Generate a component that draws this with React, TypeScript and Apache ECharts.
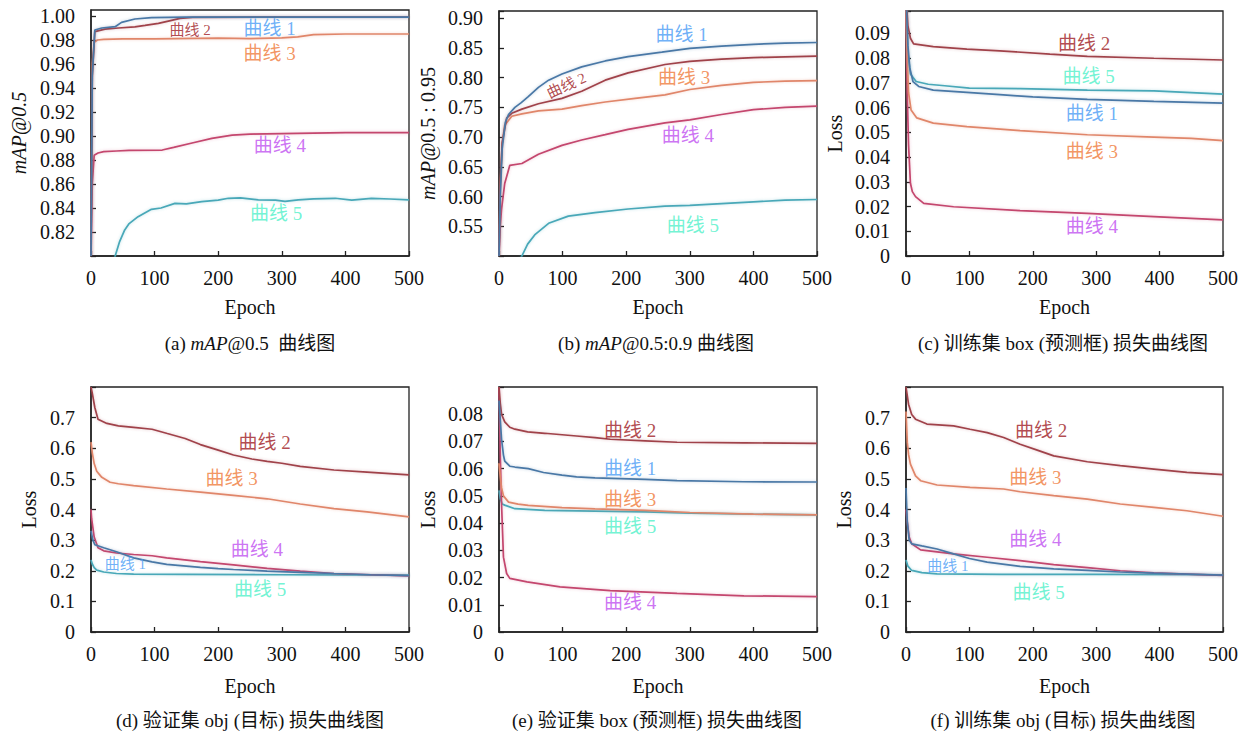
import React, { useEffect, useRef } from 'react';
import * as echarts from 'echarts';

type P = [number, number];

// ---------- tick labels ----------
const X_TICKS = ['0', '100', '200', '300', '400', '500'];
const A_YTICKS = ['0.82', '0.84', '0.86', '0.88', '0.90', '0.92', '0.94', '0.96', '0.98', '1.00'];
const B_YTICKS = ['0.55', '0.60', '0.65', '0.70', '0.75', '0.80', '0.85', '0.90'];
const C_YTICKS = ['0', '0.01', '0.02', '0.03', '0.04', '0.05', '0.06', '0.07', '0.08', '0.09'];
const D_YTICKS = ['0', '0.1', '0.2', '0.3', '0.4', '0.5', '0.6', '0.7'];
const E_YTICKS = ['0', '0.01', '0.02', '0.03', '0.04', '0.05', '0.06', '0.07', '0.08'];
const F_YTICKS = ['0', '0.1', '0.2', '0.3', '0.4', '0.5', '0.6', '0.7'];

const CURVE_NAMES = ['曲线 1', '曲线 2', '曲线 3', '曲线 4', '曲线 5'];

// ---------- (a) mAP@0.5 ----------
const A_C1: P[] = [[0, 0.80], [2, 0.95], [6, 0.9883], [17, 0.990], [38, 0.9911], [48, 0.9947], [69, 0.9975], [95, 0.9986], [150, 0.9990], [300, 0.9991], [500, 0.9991]];
const A_C2: P[] = [[0, 0.80], [2, 0.95], [6, 0.987], [22, 0.989], [43, 0.990], [69, 0.991], [85, 0.9922], [106, 0.9939], [125, 0.9962], [140, 0.998], [160, 0.9989], [300, 0.9991], [500, 0.9991]];
const A_C3: P[] = [[0, 0.80], [2, 0.96], [5, 0.978], [10, 0.980], [20, 0.9805], [50, 0.981], [100, 0.981], [200, 0.9815], [250, 0.9812], [300, 0.9818], [325, 0.9826], [350, 0.9845], [400, 0.985], [500, 0.985]];
const A_C4: P[] = [[0, 0.80], [2, 0.86], [5, 0.884], [11, 0.8858], [20, 0.887], [40, 0.8875], [60, 0.888], [112, 0.8883], [130, 0.8905], [159, 0.8942], [190, 0.898], [222, 0.9008], [250, 0.9015], [300, 0.902], [400, 0.9028], [500, 0.9028]];
const A_C5: P[] = [[0, 0.70], [20, 0.76], [38, 0.80], [45, 0.812], [53, 0.8217], [60, 0.827], [74, 0.8328], [95, 0.8389], [110, 0.840], [132, 0.8439], [150, 0.8435], [174, 0.8453], [200, 0.8465], [216, 0.8481], [235, 0.8485], [263, 0.8467], [290, 0.8465], [305, 0.8455], [326, 0.8467], [350, 0.8476], [384, 0.8481], [410, 0.8465], [441, 0.848], [470, 0.8475], [500, 0.8467]];
const A_LABELS: [number, number, string][] = [[156, 0.9883, '曲线 2'], [281, 0.990, '曲线 1'], [281, 0.969, '曲线 3'], [297, 0.8917, '曲线 4'], [291, 0.8358, '曲线 5']];

// ---------- (b) mAP@0.5:0.95 ----------
const B_C1: P[] = [[0, 0.50], [2, 0.60], [5, 0.68], [10, 0.725], [15, 0.738], [25, 0.75], [35, 0.758], [46, 0.768], [62, 0.7835], [78, 0.7957], [99, 0.806], [130, 0.818], [167, 0.828], [203, 0.8354], [256, 0.8427], [300, 0.849], [350, 0.853], [400, 0.856], [450, 0.858], [500, 0.859]];
const B_C2: P[] = [[0, 0.50], [2, 0.62], [5, 0.69], [12, 0.732], [20, 0.74], [36, 0.747], [62, 0.756], [99, 0.765], [130, 0.777], [167, 0.7957], [203, 0.808], [261, 0.822], [300, 0.8274], [350, 0.831], [400, 0.8335], [450, 0.835], [500, 0.836]];
const B_C3: P[] = [[0, 0.50], [2, 0.62], [5, 0.69], [9, 0.72], [20, 0.735], [36, 0.739], [62, 0.744], [99, 0.747], [130, 0.753], [167, 0.759], [214, 0.765], [261, 0.771], [300, 0.78], [350, 0.787], [400, 0.792], [450, 0.794], [500, 0.795]];
const B_C4: P[] = [[0, 0.50], [2, 0.55], [4, 0.579], [9, 0.622], [17, 0.6525], [36, 0.6555], [62, 0.671], [99, 0.686], [130, 0.695], [167, 0.704], [203, 0.713], [261, 0.724], [300, 0.729], [350, 0.738], [400, 0.746], [450, 0.75], [500, 0.752]];
const B_C5: P[] = [[0, 0.40], [30, 0.49], [36, 0.50], [45, 0.52], [57, 0.5365], [78, 0.555], [109, 0.567], [151, 0.573], [203, 0.579], [261, 0.584], [300, 0.585], [350, 0.588], [400, 0.591], [450, 0.594], [500, 0.595]];
const B_LABELS: [number, number, string][] = [[106, 0.7866, '曲线 2'], [287, 0.872, '曲线 1'], [291, 0.80, '曲线 3'], [297, 0.7024, '曲线 4'], [305, 0.5518, '曲线 5']];

// ---------- (c) train box loss ----------
const C_C1: P[] = [[0, 0.105], [3, 0.085], [6, 0.076], [11, 0.0705], [20, 0.0685], [43, 0.067], [96, 0.0661], [148, 0.0652], [200, 0.0643], [286, 0.0633], [391, 0.0625], [500, 0.0618]];
const C_C2: P[] = [[0, 0.105], [3, 0.093], [7, 0.088], [12, 0.0857], [43, 0.0846], [96, 0.0836], [148, 0.0829], [227, 0.0816], [286, 0.0807], [391, 0.0799], [500, 0.0792]];
const C_C3: P[] = [[0, 0.10], [2, 0.08], [4, 0.066], [8, 0.059], [17, 0.0558], [43, 0.0537], [96, 0.0523], [180, 0.0507], [286, 0.049], [391, 0.048], [450, 0.0475], [500, 0.0466]];
const C_C4: P[] = [[0, 0.10], [2, 0.065], [4, 0.045], [7, 0.0294], [10, 0.026], [15, 0.024], [28, 0.0213], [75, 0.0199], [180, 0.0183], [286, 0.0172], [391, 0.0159], [500, 0.0146]];
const C_C5: P[] = [[0, 0.11], [3, 0.082], [7, 0.0735], [16, 0.0705], [35, 0.0694], [61, 0.0688], [100, 0.0678], [180, 0.0676], [286, 0.067], [391, 0.0667], [450, 0.066], [500, 0.0654]];
const C_LABELS: [number, number, string][] = [[281, 0.086, '曲线 2'], [288, 0.0725, '曲线 5'], [293, 0.0577, '曲线 1'], [293, 0.0422, '曲线 3'], [293, 0.0119, '曲线 4']];

// ---------- (d) val obj loss ----------
const D_C1: P[] = [[0, 0.33], [3, 0.30], [6, 0.285], [20, 0.275], [40, 0.262], [67, 0.242], [96, 0.229], [119, 0.221], [172, 0.211], [200, 0.207], [224, 0.204], [277, 0.199], [329, 0.195], [382, 0.191], [440, 0.187], [500, 0.184]];
const D_C2: P[] = [[0, 0.80], [2, 0.78], [6, 0.733], [11, 0.695], [25, 0.681], [43, 0.673], [67, 0.668], [96, 0.662], [120, 0.648], [148, 0.632], [172, 0.612], [200, 0.594], [224, 0.578], [253, 0.565], [277, 0.557], [300, 0.551], [329, 0.541], [382, 0.529], [434, 0.522], [500, 0.513]];
const D_C3: P[] = [[0, 0.62], [2, 0.585], [5, 0.55], [9, 0.525], [17, 0.505], [30, 0.489], [43, 0.484], [67, 0.478], [119, 0.467], [172, 0.457], [224, 0.446], [277, 0.435], [329, 0.418], [382, 0.403], [434, 0.392], [500, 0.376]];
const D_C4: P[] = [[0, 0.40], [1, 0.37], [5, 0.31], [11, 0.275], [20, 0.265], [40, 0.258], [67, 0.253], [96, 0.249], [119, 0.242], [172, 0.23], [224, 0.219], [277, 0.208], [329, 0.199], [382, 0.191], [440, 0.187], [500, 0.183]];
const D_C5: P[] = [[0, 0.235], [2, 0.222], [5, 0.21], [9, 0.202], [20, 0.196], [40, 0.191], [67, 0.189], [150, 0.188], [300, 0.187], [500, 0.186]];
const D_LABELS: [number, number, string][] = [[273, 0.619, '曲线 2'], [221, 0.50, '曲线 3'], [261, 0.2695, '曲线 4'], [54, 0.222, '曲线 1'], [266, 0.1396, '曲线 5']];

// ---------- (e) val box loss ----------
const E_C1: P[] = [[0, 0.085], [2, 0.078], [4, 0.0708], [7, 0.065], [9, 0.0628], [17, 0.0609], [25, 0.0606], [46, 0.06], [70, 0.0586], [99, 0.0576], [122, 0.057], [151, 0.0566], [230, 0.0561], [280, 0.0556], [385, 0.0552], [500, 0.0551]];
const E_C2: P[] = [[0, 0.09], [2, 0.084], [4, 0.08], [9, 0.0772], [17, 0.0752], [25, 0.0745], [45, 0.0735], [72, 0.073], [122, 0.072], [151, 0.0714], [175, 0.0708], [230, 0.0702], [280, 0.0697], [385, 0.0695], [500, 0.0693]];
const E_C3: P[] = [[0, 0.062], [2, 0.057], [4, 0.053], [7, 0.05], [15, 0.0477], [30, 0.047], [46, 0.0465], [99, 0.0457], [151, 0.0452], [230, 0.0447], [300, 0.0439], [400, 0.0433], [500, 0.043]];
const E_C4: P[] = [[0, 0.09], [2, 0.065], [4, 0.047], [7, 0.0275], [12, 0.0215], [17, 0.0197], [44, 0.0184], [96, 0.0166], [175, 0.0152], [280, 0.0142], [385, 0.0133], [500, 0.013]];
const E_C5: P[] = [[0, 0.052], [2, 0.049], [5, 0.047], [9, 0.0466], [25, 0.0453], [72, 0.0447], [151, 0.0444], [230, 0.0441], [300, 0.0437], [400, 0.0433], [500, 0.043]];
const E_LABELS: [number, number, string][] = [[206, 0.0739, '曲线 2'], [206, 0.0601, '曲线 1'], [206, 0.0488, '曲线 3'], [206, 0.0387, '曲线 5'], [206, 0.0109, '曲线 4']];

// ---------- (f) train obj loss ----------
const F_C1: P[] = [[0, 0.47], [2, 0.36], [5, 0.30], [9, 0.288], [25, 0.281], [49, 0.271], [75, 0.255], [100, 0.24], [128, 0.228], [180, 0.214], [233, 0.206], [286, 0.201], [338, 0.196], [391, 0.192], [443, 0.189], [500, 0.186]];
const F_C2: P[] = [[0, 0.80], [4, 0.744], [9, 0.71], [15, 0.695], [33, 0.679], [75, 0.673], [101, 0.662], [128, 0.651], [154, 0.635], [180, 0.613], [207, 0.594], [233, 0.575], [286, 0.556], [338, 0.543], [391, 0.532], [443, 0.521], [500, 0.514]];
const F_C3: P[] = [[0, 0.72], [2, 0.62], [4, 0.58], [7, 0.548], [15, 0.51], [23, 0.494], [49, 0.48], [101, 0.472], [154, 0.467], [180, 0.458], [233, 0.445], [286, 0.434], [338, 0.418], [391, 0.407], [443, 0.396], [500, 0.378]];
const F_C4: P[] = [[0, 0.40], [2, 0.36], [5, 0.31], [9, 0.288], [23, 0.268], [75, 0.255], [128, 0.244], [180, 0.233], [233, 0.22], [286, 0.21], [338, 0.20], [391, 0.193], [443, 0.189], [500, 0.185]];
const F_C5: P[] = [[0, 0.235], [3, 0.215], [9, 0.201], [25, 0.194], [49, 0.19], [150, 0.188], [300, 0.188], [500, 0.187]];
const F_LABELS: [number, number, string][] = [[213, 0.659, '曲线 2'], [204, 0.503, '曲线 3'], [204, 0.301, '曲线 4'], [66, 0.217, '曲线 1'], [209, 0.13, '曲线 5']];

// ---------- styles ----------
const FONT = '"Liberation Serif", "Times New Roman", "Noto Sans CJK SC", serif';
const LINE_COLORS = ['#4a78a6', '#a0424a', '#e0866a', '#c4466e', '#48a8b8'];
const HALO_COLORS = ['rgba(74,120,166,0.35)', 'rgba(160,66,74,0.3)', 'rgba(224,134,106,0.35)', 'rgba(196,70,110,0.3)', 'rgba(72,168,184,0.35)'];
const LABEL_COLORS = ['#4a9cf5', '#9e1a24', '#ef7a3a', '#c050f0', '#4ff0c8'];
const INK = '#111';
const FS = 20;

const PANELS = [
  { grid: { left: 91, top: 10, width: 318, height: 246 }, yMin: 0.80, yMax: 1.005, yInt: 0.02, dec: 2, ticks: A_YTICKS,
    yName: '{i|mAP@0.5}', yGap: 62, xGap: 41, curves: [A_C1, A_C2, A_C3, A_C4, A_C5], labels: A_LABELS,
    small: ['曲线 2'], rot: {} as Record<string, number>, caption: '(a) {i|mAP}@0.5  曲线图', cap: [250, 343] },
  { grid: { left: 499, top: 11, width: 318, height: 245 }, yMin: 0.50, yMax: 0.912, yInt: 0.05, dec: 2, ticks: B_YTICKS,
    yName: '{i|mAP@}0.5 : 0.95', yGap: 61, xGap: 41, curves: [B_C1, B_C2, B_C3, B_C4, B_C5], labels: B_LABELS,
    small: ['曲线 2'], rot: { '曲线 2': 25 } as Record<string, number>, caption: '(b) {i|mAP}@0.5:0.9 曲线图', cap: [656, 343] },
  { grid: { left: 906, top: 11, width: 317, height: 245 }, yMin: 0, yMax: 0.099, yInt: 0.01, dec: 2, ticks: C_YTICKS,
    yName: 'Loss', yGap: 61, xGap: 41, curves: [C_C1, C_C2, C_C3, C_C4, C_C5], labels: C_LABELS,
    small: [] as string[], rot: {} as Record<string, number>, caption: '(c) 训练集 box (预测框) 损失曲线图', cap: [1063, 343] },
  { grid: { left: 91, top: 387, width: 318, height: 245 }, yMin: 0, yMax: 0.8, yInt: 0.1, dec: 1, ticks: D_YTICKS,
    yName: 'Loss', yGap: 52, xGap: 44, curves: [D_C1, D_C2, D_C3, D_C4, D_C5], labels: D_LABELS,
    small: ['曲线 1'], rot: {} as Record<string, number>, caption: '(d) 验证集 obj (目标) 损失曲线图', cap: [250, 720] },
  { grid: { left: 499, top: 387, width: 318, height: 245 }, yMin: 0, yMax: 0.09, yInt: 0.01, dec: 2, ticks: E_YTICKS,
    yName: 'Loss', yGap: 61, xGap: 44, curves: [E_C1, E_C2, E_C3, E_C4, E_C5], labels: E_LABELS,
    small: [] as string[], rot: {} as Record<string, number>, caption: '(e) 验证集 box (预测框) 损失曲线图', cap: [657, 720] },
  { grid: { left: 906, top: 387, width: 317, height: 245 }, yMin: 0, yMax: 0.8, yInt: 0.1, dec: 1, ticks: F_YTICKS,
    yName: 'Loss', yGap: 52, xGap: 44, curves: [F_C1, F_C2, F_C3, F_C4, F_C5], labels: F_LABELS,
    small: ['曲线 1'], rot: {} as Record<string, number>, caption: '(f) 训练集 obj (目标) 损失曲线图', cap: [1063, 720] },
];

function buildOption() {
  const grids: any[] = [];
  const xAxes: any[] = [];
  const yAxes: any[] = [];
  const series: any[] = [];
  const graphics: any[] = [];
  const textBase = { fontFamily: FONT, fontSize: FS, color: INK };

  PANELS.forEach((p, i) => {
    grids.push({ ...p.grid, show: true, borderColor: '#222', borderWidth: 1.3, containLabel: false });
    xAxes.push({
      gridIndex: i, type: 'value', min: 0, max: 500, interval: 100,
      axisLine: { show: true, onZero: false, lineStyle: { color: '#222', width: 1.5 } },
      axisTick: { show: true, inside: true, length: 5, lineStyle: { color: '#222', width: 1.3 } },
      splitLine: { show: false },
      axisLabel: {
        ...textBase, margin: 12,
        formatter: (v: number) => { const s = String(Math.round(v)); return X_TICKS.includes(s) ? s : ''; },
      },
      name: 'Epoch', nameLocation: 'middle', nameGap: p.xGap, nameTextStyle: { ...textBase },
    });
    const ticks = p.ticks; const dec = p.dec;
    yAxes.push({
      gridIndex: i, type: 'value', min: p.yMin, max: p.yMax, interval: p.yInt,
      axisLine: { show: true, onZero: false, lineStyle: { color: '#222', width: 1.5 } },
      axisTick: { show: true, inside: true, length: 5, lineStyle: { color: '#222', width: 1.3 } },
      splitLine: { show: false },
      axisLabel: {
        ...textBase, margin: 16,
        formatter: (v: number) => { const s = Math.abs(v) < 1e-9 ? '0' : v.toFixed(dec); return ticks.includes(s) ? s : ''; },
      },
      name: p.yName, nameLocation: 'middle', nameGap: p.yGap,
      nameTextStyle: { ...textBase, rich: { i: { ...textBase, fontStyle: 'italic' } } },
    });
    p.curves.forEach((c, k) => {
      series.push({
        type: 'line', xAxisIndex: i, yAxisIndex: i, data: c, showSymbol: false, symbol: 'none',
        smooth: false, clip: true, silent: true, z: 2 + (4 - k) * 0.1,
        lineStyle: { color: LINE_COLORS[k], width: 1.7, shadowColor: HALO_COLORS[k], shadowBlur: 3 },
        itemStyle: { color: LINE_COLORS[k] },
      });
    });
    series.push({
      type: 'scatter', xAxisIndex: i, yAxisIndex: i, symbolSize: 1, silent: true, z: 10,
      itemStyle: { color: 'rgba(0,0,0,0)' },
      data: p.labels.map(([x, y, t]) => ({
        value: [x, y], name: t,
        label: {
          show: true, position: 'inside', formatter: '{b}',
          color: LABEL_COLORS[CURVE_NAMES.indexOf(t)], fontFamily: FONT,
          fontSize: p.small.includes(t) ? 15 : 19, rotate: p.rot[t] || 0,
        },
      })),
    });
    graphics.push({
      type: 'text', x: p.cap[0], y: p.cap[1], silent: true,
      style: {
        text: p.caption, fontFamily: FONT, fontSize: 19, fill: INK, align: 'center', verticalAlign: 'middle',
        rich: { i: { fontFamily: FONT, fontSize: 19, fill: INK, fontStyle: 'italic' } },
      },
    });
  });

  return {
    animation: false,
    backgroundColor: '#ffffff',
    grid: grids, xAxis: xAxes, yAxis: yAxes, series, graphic: graphics,
  };
}

export default function App() {
  const ref = useRef<HTMLDivElement>(null);
  useEffect(() => {
    if (!ref.current) return;
    const chart = echarts.init(ref.current, undefined, { renderer: 'svg' });
    chart.setOption(buildOption() as any);
    return () => chart.dispose();
  }, []);
  return <div ref={ref} style={{ position: 'absolute', left: 0, top: 0, width: 1247, height: 733 }} />;
}
